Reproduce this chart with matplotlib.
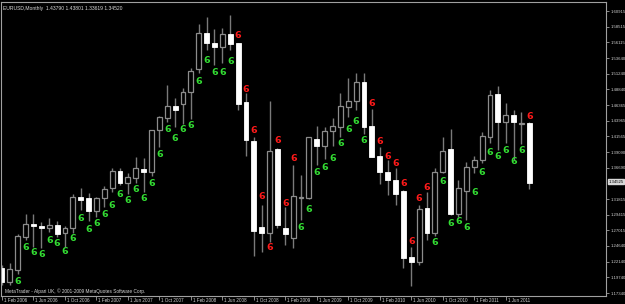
import matplotlib
matplotlib.use("Agg")
import matplotlib.pyplot as plt
import numpy as np

# EURUSD monthly candles, Feb 2006 .. Sep 2011
opens = [1.212, 1.190, 1.209, 1.260, 1.280, 1.277, 1.274, 1.278, 1.266, 1.274,
         1.322, 1.320, 1.300, 1.320, 1.336, 1.362, 1.343, 1.351, 1.365, 1.360,
         1.425, 1.444, 1.462, 1.465, 1.484, 1.519, 1.575, 1.560, 1.553, 1.574,
         1.560, 1.468, 1.408, 1.275, 1.266, 1.396, 1.274, 1.258, 1.320, 1.320,
         1.411, 1.400, 1.424, 1.430, 1.461, 1.470, 1.499, 1.431, 1.385, 1.360,
         1.348, 1.331, 1.229, 1.221, 1.305, 1.266, 1.360, 1.396, 1.295, 1.331,
         1.368, 1.379, 1.414, 1.481, 1.438, 1.448, 1.435, 1.436]
highs = [1.216, 1.220, 1.264, 1.295, 1.295, 1.283, 1.290, 1.285, 1.277, 1.326,
         1.336, 1.328, 1.322, 1.339, 1.366, 1.366, 1.359, 1.384, 1.382, 1.425,
         1.447, 1.495, 1.475, 1.490, 1.521, 1.589, 1.600, 1.581, 1.583, 1.603,
         1.560, 1.482, 1.414, 1.309, 1.470, 1.397, 1.306, 1.371, 1.356, 1.414,
         1.431, 1.430, 1.444, 1.482, 1.505, 1.513, 1.513, 1.458, 1.399, 1.379,
         1.366, 1.333, 1.244, 1.309, 1.329, 1.366, 1.414, 1.427, 1.348, 1.376,
         1.385, 1.422, 1.487, 1.493, 1.467, 1.456, 1.453, 1.437]
lows = [1.186, 1.186, 1.203, 1.256, 1.244, 1.243, 1.268, 1.260, 1.244, 1.266,
        1.302, 1.285, 1.291, 1.306, 1.329, 1.340, 1.326, 1.343, 1.330, 1.355,
        1.399, 1.438, 1.430, 1.435, 1.442, 1.513, 1.549, 1.526, 1.529, 1.549,
        1.456, 1.385, 1.231, 1.237, 1.252, 1.274, 1.248, 1.243, 1.286, 1.318,
        1.371, 1.380, 1.400, 1.414, 1.445, 1.456, 1.419, 1.383, 1.342, 1.325,
        1.309, 1.212, 1.184, 1.217, 1.255, 1.261, 1.359, 1.294, 1.291, 1.287,
        1.359, 1.374, 1.405, 1.394, 1.405, 1.379, 1.404, 1.334]
closes = [1.190, 1.210, 1.261, 1.280, 1.277, 1.274, 1.278, 1.264, 1.274, 1.322,
          1.317, 1.300, 1.320, 1.334, 1.362, 1.343, 1.353, 1.366, 1.360, 1.425,
          1.445, 1.462, 1.456, 1.484, 1.516, 1.575, 1.560, 1.553, 1.574, 1.558,
          1.465, 1.410, 1.269, 1.266, 1.393, 1.278, 1.265, 1.324, 1.322, 1.414,
          1.400, 1.424, 1.431, 1.462, 1.470, 1.499, 1.430, 1.383, 1.360, 1.348,
          1.326, 1.228, 1.221, 1.303, 1.266, 1.360, 1.393, 1.295, 1.336, 1.368,
          1.379, 1.416, 1.479, 1.438, 1.448, 1.438, 1.436, 1.343]

# "6" counts drawn on the chart: candle index and price level
green_idx = list(range(2, 30)) + list(range(38, 47)) + list(range(55, 67))
green_y = [1.1905, 1.2445, 1.2353, 1.2337, 1.2553, 1.2492, 1.2368, 1.2569,
           1.2893, 1.2723, 1.2816, 1.2955, 1.3079, 1.3264, 1.3171, 1.3341,
           1.3202, 1.3419, 1.3882, 1.4268, 1.4129, 1.4268, 1.4315, 1.5010,
           1.5334, 1.5134, 1.5149, 1.5319,
           1.2754, 1.3032, 1.3589, 1.3681, 1.3820, 1.4037, 1.4268, 1.4392, 1.4098,
           1.2507, 1.3450, 1.2816, 1.2832, 1.2739, 1.3295, 1.3604, 1.3898,
           1.3836, 1.3944, 1.3759, 1.3944]
red_idx = list(range(30, 38)) + list(range(47, 55)) + [67]
red_y = [1.5721, 1.4886, 1.4238, 1.3218, 1.2445, 1.4098, 1.3125, 1.3805,
         1.4655, 1.4068, 1.3851, 1.3743, 1.3419, 1.2523, 1.3202, 1.3357,
         1.4455]

date_labels = ["1 Feb 2006", "1 Jun 2006", "1 Oct 2006", "1 Feb 2007", "1 Jun 2007",
               "1 Oct 2007", "1 Feb 2008", "1 Jun 2008", "1 Oct 2008", "1 Feb 2009",
               "1 Jun 2009", "1 Oct 2009", "1 Feb 2010", "1 Jun 2010", "1 Oct 2010",
               "1 Feb 2011", "1 Jun 2011"]
price_ticks = [1.60915, 1.58515, 1.56115, 1.53640, 1.51240, 1.48840, 1.46365,
               1.43965, 1.41565, 1.39090, 1.36690, 1.31815, 1.29415, 1.27015,
               1.24640, 1.22140, 1.19740, 1.17340]
last_price = 1.34525
header = "EURUSD,Monthly  1.43790 1.43801 1.33619 1.34520"
footer = "MetaTrader - Alpari UK, \u00a9 2001-2009 MetaQuotes Software Corp."

W, H = 625, 304
fig = plt.figure(figsize=(W / 100, H / 100), dpi=100, facecolor="black")
ax = fig.add_axes([1 / W, (H - 296) / H, 605 / W, 294 / H], facecolor="black")

frame = "#a0a0a0"
wick_col = "#7a7a7a"
x = np.arange(len(opens))
o = np.array(opens)
c = np.array(closes)

# wicks first, bodies on top (bull = hollow, bear = white)
ax.vlines(x, lows, highs, color=wick_col, lw=1.0, zorder=1)
bull = c >= o
bottom = np.minimum(o, c)
height = np.maximum(np.abs(c - o), 0.0012)
ax.bar(x[bull], height[bull], bottom=bottom[bull], width=0.62,
       facecolor="black", edgecolor="#8c8c8c", lw=0.9, zorder=2)
ax.bar(x[~bull], height[~bull], bottom=bottom[~bull], width=0.62,
       facecolor="white", edgecolor="white", lw=0.6, zorder=2)

for i, y in zip(green_idx, green_y):
    ax.text(i, y, "6", color="#33dd33", fontsize=6.8, fontweight="bold",
            ha="center", va="center", zorder=3)
for i, y in zip(red_idx, red_y):
    ax.text(i, y, "6", color="#ff1a1a", fontsize=6.8, fontweight="bold",
            ha="center", va="center", zorder=3)

px = 7.87
ax.set_xlim(-1 / px, 604 / px)
ax.set_ylim(1.1688, 1.6231)

for s in ax.spines.values():
    s.set_color(frame)
    s.set_linewidth(0.8)

ax.yaxis.tick_right()
ax.set_yticks(price_ticks)
ax.set_yticklabels(["%.5f" % p for p in price_ticks])
ax.tick_params(axis="y", colors=frame, labelcolor="#d0d0d0", length=2.5,
               width=0.6, labelsize=3.1, pad=0.8)
ax.tick_params(axis="x", colors=frame, length=3, width=0.6, direction="out")
ax.set_xticks(x[::4][:len(date_labels)])
ax.set_xticklabels([])
for i, lab in zip(x[::4], date_labels):
    ax.text(i + 0.25, -0.006, lab, transform=ax.get_xaxis_transform(),
            color="#d0d0d0", fontsize=3.3, ha="left", va="top",
            family="Liberation Sans")
for lab in ax.get_yticklabels():
    lab.set_family("Liberation Sans")

ax.text(1.004, last_price, "%.5f" % last_price, transform=ax.get_yaxis_transform(),
        color="black", fontsize=3.1, ha="left", va="center", family="Liberation Sans",
        bbox=dict(boxstyle="square,pad=0.15", fc="#d8d8d8", ec="#d8d8d8"))

ax.text(0.004, 0.985, header, transform=ax.transAxes, color="#d8d8d8",
        fontsize=3.6, ha="left", va="top", family="Liberation Sans")
ax.text(0.006, 0.008, footer, transform=ax.transAxes, color="#d8d8d8",
        fontsize=3.4, ha="left", va="bottom", family="Liberation Sans")

fig.savefig("out.png", dpi=100, facecolor="black")
